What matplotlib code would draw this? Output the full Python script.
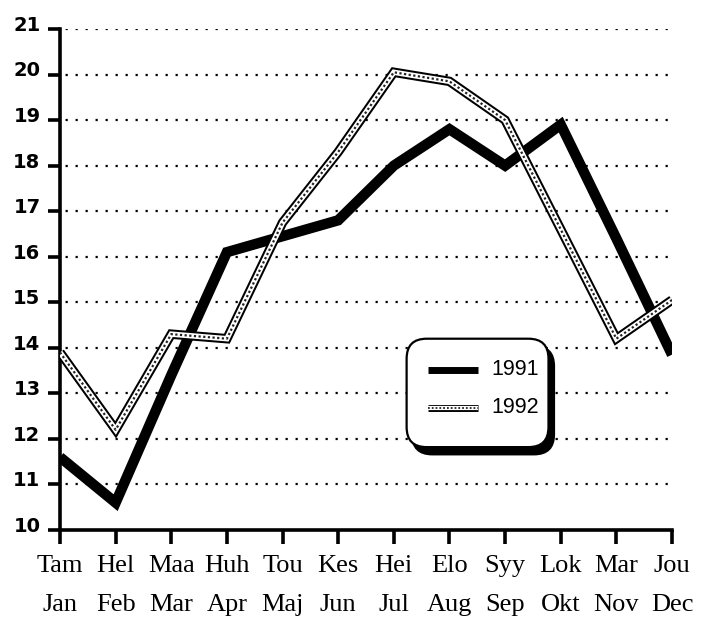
import matplotlib
matplotlib.use("Agg")
import matplotlib.pyplot as plt
from matplotlib.patches import FancyBboxPatch
from matplotlib.transforms import ScaledTranslation

months_fi = ["Tam", "Hel", "Maa", "Huh", "Tou", "Kes", "Hei", "Elo", "Syy", "Lok", "Mar", "Jou"]
months_sv = ["Jan", "Feb", "Mar", "Apr", "Maj", "Jun", "Jul", "Aug", "Sep", "Okt", "Nov", "Dec"]
temp_1991 = [11.6, 10.6, 13.4, 16.1, 16.45, 16.8, 18.0, 18.8, 18.0, 18.9, 16.4, 13.85]
temp_1992 = [13.9, 12.2, 14.3, 14.2, 16.75, 18.3, 20.05, 19.85, 19.0, 16.6, 14.2, 15.05]
yticks = list(range(10, 22))
series_labels = ["1991", "1992"]

fig = plt.figure(figsize=(7.04, 6.21), dpi=100)
ax = fig.add_axes([60/704, 1-530/621, (672-60)/704, (530-29)/621])

x = list(range(len(months_fi)))

# grid
for yv in yticks[1:]:
    ax.axhline(yv, color="black", lw=1.6, linestyle=(2, (1, 3.5)), zorder=1)

# 1991: thick black
ax.plot(x, temp_1991, color="black", lw=7.5, solid_joinstyle="miter",
        solid_capstyle="butt", zorder=3)
# 1992: outlined, dotted interior
ax.plot(x, temp_1992, color="black", lw=6.8, solid_joinstyle="miter",
        solid_capstyle="butt", zorder=4)
ax.plot(x, temp_1992, color="white", lw=3.9, solid_joinstyle="miter",
        solid_capstyle="butt", zorder=5)
ax.plot(x, temp_1992, color="#222222", lw=1.6, linestyle=(0, (1, 1.1)),
        zorder=6)

ax.set_xlim(0, 11)
ax.set_ylim(10, 21)

for s in ["top", "right"]:
    ax.spines[s].set_visible(False)
for s in ["left", "bottom"]:
    ax.spines[s].set_linewidth(2.6)
    ax.spines[s].set_capstyle("projecting")

ax.set_yticks(yticks)
ax.set_yticklabels([str(v) for v in yticks], fontfamily="DejaVu Sans",
                   fontweight="bold", fontsize=14)
ax.tick_params(axis="y", length=9, width=2.6, pad=5)
for lab in ax.get_yticklabels():
    lab.set_transform(lab.get_transform() + ScaledTranslation(0, 4/72, fig.dpi_scale_trans))

ax.set_xticks(x)
ax.set_xticklabels([f"{a}\n{b}" for a, b in zip(months_fi, months_sv)],
                   fontfamily="Liberation Serif", fontsize=19, linespacing=2.0)
ax.tick_params(axis="x", length=10, width=2.6, pad=8)

# legend box
lx0, lx1 = 6.23, 8.78
ly0, ly1 = 11.82, 14.2
asp = (1/45.5) / (1/55.6)
r = 0.36
shadow = FancyBboxPatch((lx0 + 0.1, ly0 - 0.16), lx1 - lx0, ly1 - ly0,
                        boxstyle=f"round,pad=0,rounding_size={r}",
                        mutation_aspect=asp, facecolor="black",
                        edgecolor="black", lw=1.5, zorder=7)
box = FancyBboxPatch((lx0, ly0), lx1 - lx0, ly1 - ly0,
                     boxstyle=f"round,pad=0,rounding_size={r}",
                     mutation_aspect=asp, facecolor="white",
                     edgecolor="black", lw=1.6, zorder=8)
ax.add_patch(shadow)
ax.add_patch(box)

sx0, sx1 = 6.62, 7.52
y91, y92 = 13.52, 12.68
ax.plot([sx0, sx1], [y91, y91], color="black", lw=5, solid_capstyle="butt", zorder=9)
ax.plot([sx0, sx1], [y92, y92], color="black", lw=5, solid_capstyle="butt", zorder=9)
ax.plot([sx0, sx1], [y92, y92], color="white", lw=3, solid_capstyle="butt", zorder=10)
ax.plot([sx0, sx1], [y92, y92], color="#222222", lw=1.3, linestyle=(0, (1, 1.1)), zorder=11)
ax.text(7.75, y91, series_labels[0], fontfamily="Liberation Sans", fontsize=15.5,
        va="center", ha="left", zorder=12)
ax.text(7.75, y92, series_labels[1], fontfamily="Liberation Sans", fontsize=15.5,
        va="center", ha="left", zorder=12)

fig.savefig("out.png", dpi=100)
